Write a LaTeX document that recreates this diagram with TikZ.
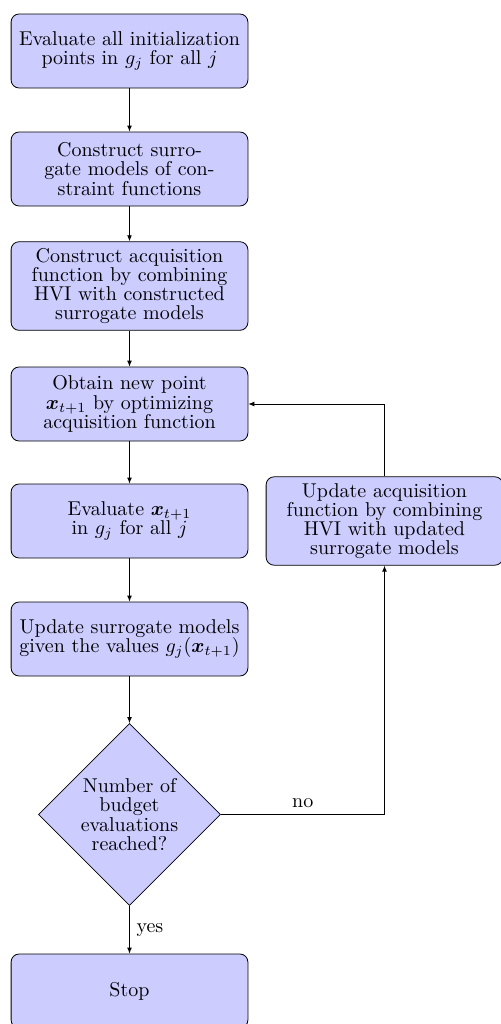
\documentclass[tikz,border=0pt]{standalone}
\usepackage{amsmath}
\usetikzlibrary{shapes.geometric,arrows.meta}
\tikzset{
  blk/.style={rectangle, draw, fill=blue!20, rounded corners=4pt, text width=112pt, align=center,
    minimum width=117pt, minimum height=37pt, inner sep=3.2pt, font=\fontsize{10}{9.6}\selectfont},
  dec/.style={diamond, draw, fill=blue!20, aspect=1, align=center, inner sep=0pt,
    minimum size=91pt, font=\fontsize{10}{9.8}\selectfont},
  arr/.style={draw, -{Latex[length=3pt,width=2.4pt]}},
  lbl/.style={font=\fontsize{10}{12}\selectfont}
}
\begin{document}
\begin{tikzpicture}[x=1pt,y=1pt]
\useasboundingbox (0,0) rectangle (250,-512);
\node[blk] (b1) at (64.75,-25.5) {Evaluate all initialization\\ points in $g_j$ for all $j$};
\node[blk] (b2) at (64.75,-84.5) {Construct surro-\\gate models of con-\\straint functions};
\node[blk] (b3) at (64.75,-143) {Construct acquisition\\ function by combining\\ HVI with constructed\\ surrogate models};
\node[blk] (b4) at (64.75,-202) {Obtain new point\\ $\boldsymbol{x}_{t+1}$ by optimizing\\ acquisition function};
\node[blk] (b5) at (64.75,-260.5) {Evaluate $\boldsymbol{x}_{t+1}$\\ in $g_j$ for all $j$};
\node[blk] (b6) at (64.75,-319.5) {Update surrogate models\\ given the values $g_j(\boldsymbol{x}_{t+1})$};
\node[dec] (d) at (64.75,-407.25) {Number of\\ budget\\ evaluations\\ reached?};
\node[blk] (stop) at (64.75,-495.5) {Stop};
\node[blk] (rt) at (192.25,-260.5) {Update acquisition\\ function by combining\\ HVI with updated\\ surrogate models};
\draw[arr] (b1) -- (b2);
\draw[arr] (b2) -- (b3);
\draw[arr] (b3) -- (b4);
\draw[arr] (b4) -- (b5);
\draw[arr] (b5) -- (b6);
\draw[arr] (b6) -- (d);
\draw[arr] (d) -- node[lbl, right, pos=0.5] {yes} (stop);
\draw[arr] (d.east) -| node[lbl, above, pos=0.25] {no} (rt.south);
\draw[arr] (rt.north) |- (b4.east);
\end{tikzpicture}
\end{document}
